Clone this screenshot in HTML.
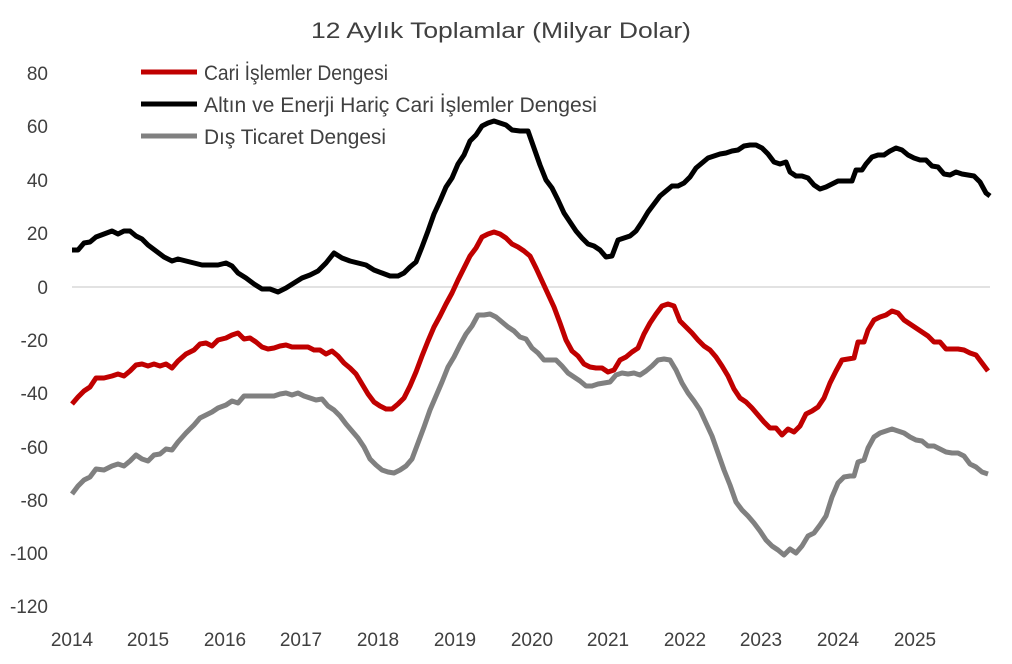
<!DOCTYPE html>
<html><head><meta charset="utf-8"><style>
body{margin:0;background:#fff;}
svg{display:block;font-family:"Liberation Sans",sans-serif;}
</style></head><body>
<svg width="1012" height="664" viewBox="0 0 1012 664">
<text x="311" y="38" font-size="22" fill="#404040" textLength="380" lengthAdjust="spacingAndGlyphs">12 Aylık Toplamlar (Milyar Dolar)</text>
<g font-size="19" fill="#404040" text-anchor="end">
<text x="48" y="80">80</text><text x="48" y="133">60</text><text x="48" y="187">40</text><text x="48" y="240">20</text><text x="48" y="294">0</text><text x="48" y="347">-20</text><text x="48" y="400">-40</text><text x="48" y="454">-60</text><text x="48" y="507">-80</text><text x="48" y="560">-100</text><text x="48" y="613">-120</text>
</g>
<g font-size="19" fill="#404040" text-anchor="middle">
<text x="72" y="646">2014</text><text x="148" y="646">2015</text><text x="225" y="646">2016</text><text x="301" y="646">2017</text><text x="378" y="646">2018</text><text x="455" y="646">2019</text><text x="532" y="646">2020</text><text x="608" y="646">2021</text><text x="685" y="646">2022</text><text x="761" y="646">2023</text><text x="838" y="646">2024</text><text x="915" y="646">2025</text>
</g>
<line x1="72" y1="287" x2="990" y2="287" stroke="#d9d9d9" stroke-width="1.5"/>
<g stroke-width="5" stroke-linecap="butt">
<line x1="141" y1="72" x2="197" y2="72" stroke="#c00000"/>
<line x1="141" y1="104" x2="197" y2="104" stroke="#000"/>
<line x1="141" y1="136" x2="197" y2="136" stroke="#808080"/>
</g>
<g font-size="21" fill="#404040" lengthAdjust="spacingAndGlyphs">
<text x="204" y="80" textLength="184" lengthAdjust="spacingAndGlyphs">Cari İşlemler Dengesi</text>
<text x="204" y="112" textLength="393" lengthAdjust="spacingAndGlyphs">Altın ve Enerji Hariç Cari İşlemler Dengesi</text>
<text x="204" y="144" textLength="182" lengthAdjust="spacingAndGlyphs">Dış Ticaret Dengesi</text>
</g>
<g fill="none" stroke-width="5" stroke-linejoin="round">
<polyline stroke="#808080" points="72,494 78,486 84,480 90,477 96,469 104,470 112,466 118,464 124,466 130,461 136,455 142,459 148,461 154,455 160,454 166,449 172,450 178,442 186,433 194,425 200,418 206,415 212,412 218,408 226,405 232,401 238,403 244,396 250,396 258,396 266,396 274,396 280,394 286,393 292,395 298,393 304,396 310,398 316,400 322,399 328,406 334,410 340,416 346,424 352,431 358,438 364,447 370,459 376,465 382,470 388,472 394,473 400,470 406,466 412,459 418,443 424,427 430,410 436,396 442,382 448,367 454,357 460,345 466,334 472,326 478,315 484,315 490,314 496,317 502,322 508,327 514,331 520,337 526,339 532,348 538,353 544,360 550,360 556,360 562,366 568,373 574,377 580,381 586,386 592,386 598,384 604,383 610,382 616,375 622,373 628,374 634,373 640,375 646,371 652,366 658,360 664,359 670,360 676,370 682,383 688,393 694,401 700,410 706,423 712,436 718,453 724,470 730,485 736,502 742,510 748,516 754,523 760,531 766,540 772,546 778,550 784,555 790,549 796,553 802,546 808,536 814,533 820,525 826,516 832,497 838,483 844,477 850,476 854,476 858,462 864,460 868,448 874,437 880,433 886,431 892,429 898,431 904,433 910,437 916,440 922,441 928,446 934,446 940,449 946,452 952,453 958,453 964,456 970,464 976,467 982,472 988,474"/>
<polyline stroke="#c00000" points="72,404 78,397 84,391 90,387 96,378 104,378 112,376 118,374 124,376 130,371 136,365 142,364 148,366 154,364 160,366 166,364 172,368 178,361 186,354 194,350 200,344 206,343 212,346 218,340 226,338 232,335 238,333 244,339 250,338 256,342 262,347 268,349 274,348 280,346 286,345 292,347 300,347 308,347 314,350 320,350 326,354 332,351 338,356 344,363 350,368 356,374 362,384 368,394 374,402 380,406 386,409 392,409 398,404 404,398 410,386 416,372 422,356 428,341 434,327 440,316 446,304 452,293 458,280 464,268 470,256 476,248 482,237 488,234 494,232 500,234 506,238 512,244 518,247 524,251 530,256 536,268 542,281 548,294 554,307 560,323 566,340 572,351 578,356 584,364 590,367 596,368 602,368 608,372 614,370 620,360 626,357 632,352 638,348 644,334 650,323 656,314 662,306 668,304 674,306 680,321 686,327 692,333 698,340 704,346 710,350 716,357 722,366 728,376 734,389 740,398 746,402 752,408 758,415 764,422 770,428 776,428 782,435 788,429 794,432 800,426 806,414 812,411 818,407 824,398 830,383 836,371 842,360 848,359 854,358 858,342 864,342 868,330 874,320 880,317 886,315 892,311 898,313 904,320 910,324 916,328 922,332 928,336 934,342 940,342 946,349 952,349 958,349 964,350 970,353 976,355 982,363 988,371"/>
<polyline stroke="#000" points="72,250 78,250 84,243 90,242 96,237 104,234 112,231 118,234 124,231 130,231 136,236 142,239 148,245 156,251 164,257 172,261 178,259 186,261 194,263 202,265 210,265 218,265 226,263 232,266 238,273 246,278 254,284 262,289 270,289 278,292 286,288 294,283 302,278 310,275 318,271 326,263 334,253 342,258 350,261 358,263 366,265 374,270 382,273 390,276 398,276 404,273 410,267 416,262 422,247 428,231 434,214 440,201 446,187 452,178 458,164 464,155 470,141 476,135 482,126 488,123 494,121 500,123 506,125 512,130 520,131 528,131 534,148 540,165 546,180 552,188 558,200 564,213 570,222 576,231 582,238 588,244 594,246 600,250 606,257 612,256 618,240 624,238 630,236 636,231 642,222 648,212 654,204 660,196 666,191 672,186 678,186 684,183 690,177 696,168 702,163 708,158 714,156 720,154 726,153 732,151 738,150 744,146 750,145 756,145 762,148 768,154 774,162 780,164 786,162 790,172 796,176 802,176 808,178 814,185 820,189 826,187 832,184 838,181 846,181 852,181 856,170 862,170 866,164 872,157 878,155 884,155 890,151 896,148 902,150 908,155 914,158 920,160 926,160 932,166 938,167 944,174 950,175 956,172 962,174 968,175 974,176 980,182 986,193 990,196"/>
</g>
</svg>
</body></html>
